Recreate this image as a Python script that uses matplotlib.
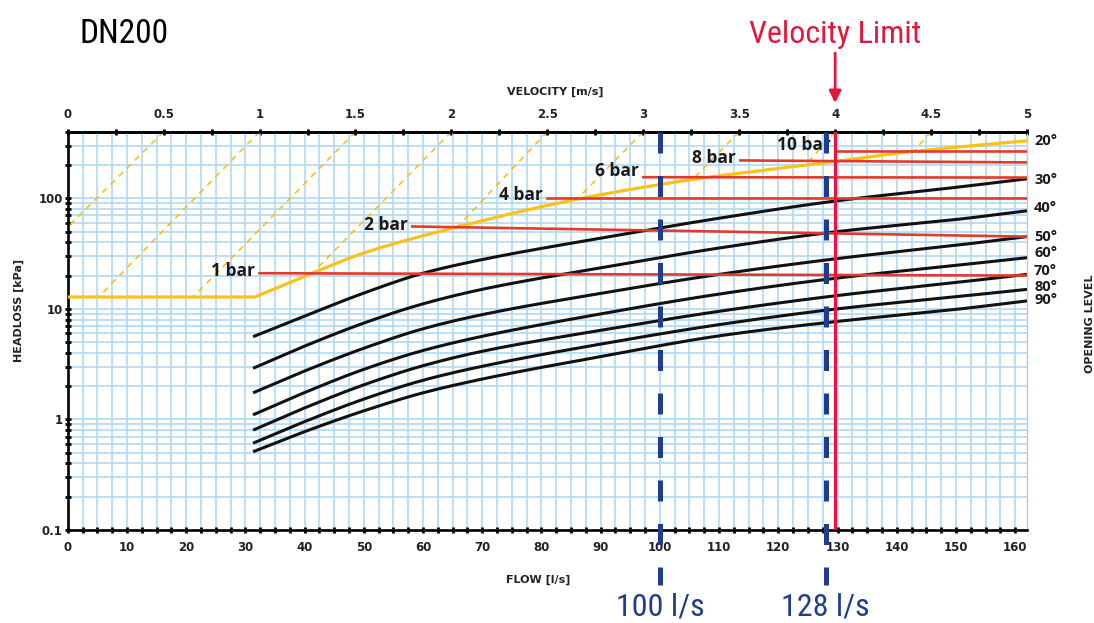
import numpy as np
import matplotlib
matplotlib.use("Agg")
import matplotlib.pyplot as plt
from matplotlib.ticker import LogLocator, NullFormatter, FixedLocator

W, H = 1094, 623

# flow [l/s] per 1 m/s on the top axis (5 m/s = 162 l/s)
flow_per_velocity = 32.4

# opening-level curves
curve_flow = [31.3, 40, 50.5, 60, 69.7, 90, 110, 130, 150.8, 162]
curve_30 = [5.6, 8.6, 14.2, 21, 27.7, 43.6, 66, 95, 127, 150]
curve_40 = [2.9, 4.6, 7.6, 11.1, 14.9, 23.5, 35.5, 50, 65, 77]
curve_50 = [1.74, 2.74, 4.5, 6.6, 8.8, 13.8, 20.5, 28.5, 38, 45]
curve_60 = [1.1, 1.75, 2.9, 4.2, 5.6, 9.0, 13.6, 19, 25, 29]
curve_70 = [0.80, 1.27, 2.1, 3.06, 4.1, 6.4, 9.5, 13.2, 17.5, 20.5]
curve_80 = [0.61, 0.955, 1.56, 2.26, 3.0, 4.8, 7.2, 10, 13, 15]
curve_90 = [0.51, 0.775, 1.22, 1.74, 2.3, 3.7, 5.7, 7.7, 10, 11.8]

# yellow envelope
env_flow = [0, 31.6, 41.3, 50, 65.8, 86, 105.6, 129.3, 142.7, 162]
env_head = [12.8, 12.8, 21, 32, 55, 98, 148, 214, 265, 331]

# dashed yellow guides: top end at velocity tick, lower end (flow, head)
guide_velocity = [0.5, 1, 1.5, 2, 2.5, 3, 3.5, 4, 4.5]
guide_low_flow = [0, 5.2, 21.2, 41.3, 65.8, 86, 105.5, 124.6, 142.8]
guide_low_head = [55, 12.8, 12.8, 21, 55, 98, 147, 200, 265]
guide_top_head = 400

# red pressure lines
bar_names = ["1 bar", "2 bar", "4 bar", "6 bar", "8 bar", "10 bar"]
bar_start_flow = [32.4, 58.2, 81, 97.2, 113.6, 129.6]
bar_start_head = [21, 55.6, 100, 155, 220, 270]
bar_end_head = [20, 45, 100, 154, 211, 270]
bar_label_head = [22.1, 57.5, 106, 177, 233, 305]

opening_labels = ["20°", "30°", "40°", "50°", "60°", "70°", "80°", "90°"]
opening_label_head = [327, 147, 82, 45, 32, 21.8, 15.9, 12.1]

velocity_limit = 4.0
marked_flows = [100, 128]
marked_labels = ["100 l/s", "128 l/s"]

x_ticks = list(range(0, 161, 10))
y_ticks = [0.1, 1, 10, 100]
y_tick_labels = ["0.1", "1", "10", "100"]
v_ticks = [0, 0.5, 1, 1.5, 2, 2.5, 3, 3.5, 4, 4.5, 5]
v_tick_labels = ["0", "0.5", "1", "1.5", "2", "2.5", "3", "3.5", "4", "4.5", "5"]


def pchip(x, y, xn):
    x = np.asarray(x, float)
    y = np.asarray(y, float)
    h = np.diff(x)
    d = np.diff(y) / h
    m = np.zeros_like(y)
    for k in range(1, len(x) - 1):
        if d[k - 1] * d[k] > 0:
            w1 = 2 * h[k] + h[k - 1]
            w2 = h[k] + 2 * h[k - 1]
            m[k] = (w1 + w2) / (w1 / d[k - 1] + w2 / d[k])
    m[0] = d[0]
    m[-1] = d[-1]
    i = np.clip(np.searchsorted(x, xn) - 1, 0, len(h) - 1)
    t = (xn - x[i]) / h[i]
    return ((2 * t**3 - 3 * t**2 + 1) * y[i] + (t**3 - 2 * t**2 + t) * h[i] * m[i]
            + (-2 * t**3 + 3 * t**2) * y[i + 1] + (t**3 - t**2) * h[i] * m[i + 1])


def smooth_log(xs, ys, n=200):
    xn = np.linspace(xs[0], xs[-1], n)
    return xn, 10 ** pchip(xs, np.log10(ys), xn)


narrow = ["Liberation Sans Narrow", "Roboto Condensed", "Roboto", "DejaVu Sans"]
bold_sans = ["Open Sans", "DejaVu Sans"]
big = 23

fig = plt.figure(figsize=(W / 100, H / 100), dpi=100)
ax = fig.add_axes([67.7 / W, 1 - 530 / H, 959.3 / W, 398.3 / H])
ax.set_yscale("log")
ax.set_xlim(0, 162)
ax.set_ylim(0.1, 400)

# grid
ax.set_axisbelow(True)
ax.xaxis.set_minor_locator(FixedLocator(np.arange(0, 162, 2.5)))
ax.yaxis.set_minor_locator(LogLocator(base=10, subs=np.arange(2, 10)))
ax.yaxis.set_minor_formatter(NullFormatter())
ax.grid(which="both", color="#b0d9f4", lw=1.2)

# curves
for ys in [curve_30, curve_40, curve_50, curve_60, curve_70, curve_80, curve_90]:
    xn, yn = smooth_log(curve_flow, ys)
    ax.plot(xn, yn, color="#111111", lw=2.2, zorder=3, solid_capstyle="butt")

xn, yn = smooth_log(env_flow[1:], env_head[1:])
ax.plot(np.r_[env_flow[0], xn], np.r_[env_head[0], yn], color="#f8c21a", lw=2.3, zorder=3)

for v, fl, hl in zip(guide_velocity, guide_low_flow, guide_low_head):
    ax.plot([v * flow_per_velocity, fl], [guide_top_head, hl], color="#f6c000",
            lw=1.1, ls=(0, (4, 3.5)), zorder=2.5)

for name, fs, hs, he, hl in zip(bar_names, bar_start_flow, bar_start_head,
                                bar_end_head, bar_label_head):
    ax.plot([fs, 162], [hs, he], color="#e43a2c", lw=1.9, zorder=3.5)
    ax.text(fs - 0.8, hl, name, ha="right", va="center", fontsize=12.5,
            fontweight="bold", family=bold_sans, color="#1a1a1a", zorder=4)

for lab, hv in zip(opening_labels, opening_label_head):
    ax.text(163.2, hv, lab, ha="left", va="center", fontsize=10.5,
            fontweight="bold", family=bold_sans, color="#1a1a1a", clip_on=False)

# marked flows
for fl, lab in zip(marked_flows, marked_labels):
    ax.plot([fl, fl], [400, 0.0318], color="#1f3d8c", lw=3.6,
            ls=(0, (4.2, 4.5)), clip_on=False, zorder=5)
    ax.annotate(lab, xy=(fl, 2 / H), xycoords=("data", "figure fraction"),
                ha="center", va="bottom", fontsize=big, family=narrow,
                color="#1f3d8c", annotation_clip=False)

# velocity limit
vl = velocity_limit * flow_per_velocity
ax.plot([vl, vl], [0.1, 400], color="#e3173e", lw=2.3, zorder=6)
ax.annotate("", xy=(vl, 1 - 103 / H), xytext=(vl, 1 - 53 / H),
            xycoords=("data", "figure fraction"), textcoords=("data", "figure fraction"),
            arrowprops=dict(arrowstyle="-|>", color="#e3173e", lw=2, mutation_scale=18,
                            shrinkA=0, shrinkB=0), annotation_clip=False)
ax.annotate("Velocity Limit", xy=(vl, 1 - 43 / H), xycoords=("data", "figure fraction"),
            ha="center", va="baseline", fontsize=big, family=narrow,
            color="#e3173e", annotation_clip=False)

fig.text(80 / W, 1 - 43 / H, "DN200", ha="left", va="baseline", fontsize=24,
         family=narrow, color="black")

# axes styling
ax.set_xticks(x_ticks)
ax.set_xticklabels([str(t) for t in x_ticks])
ax.set_yticks(y_ticks)
ax.set_yticklabels(y_tick_labels)
ax.tick_params(which="both", direction="inout", length=5, width=2, color="black",
               top=False, right=False)
ax.tick_params(axis="x", which="both", pad=5.5)
ax.tick_params(axis="y", which="both", pad=1)
for lbl in ax.get_xticklabels() + ax.get_yticklabels():
    lbl.set_fontsize(8.5)
    lbl.set_fontweight("bold")
    lbl.set_color("#222222")
for s in ["left", "bottom", "top"]:
    ax.spines[s].set_linewidth(1.9)
    ax.spines[s].set_color("black")
ax.spines["right"].set_color("#c8c8c8")
ax.spines["right"].set_linewidth(1)

sec = ax.secondary_xaxis("top", functions=(lambda q: q / flow_per_velocity,
                                            lambda v: v * flow_per_velocity))
sec.set_xticks(v_ticks)
sec.set_xticklabels(v_tick_labels)
sec.xaxis.set_minor_locator(FixedLocator(np.arange(0, 5.01, 0.25)))
sec.tick_params(which="both", direction="inout", length=5, width=2, color="black", pad=5.5)
sec.spines["top"].set_linewidth(1.9)
for lbl in sec.get_xticklabels():
    lbl.set_fontsize(8.5)
    lbl.set_fontweight("bold")
    lbl.set_color("#222222")

ax.text(0.508, 1.0997, "VELOCITY [m/s]", transform=ax.transAxes, ha="center",
        va="center", fontsize=8, fontweight="bold", color="#222222")
ax.text(0.49, -0.1255, "FLOW [l/s]", transform=ax.transAxes, ha="center",
        va="center", fontsize=8, fontweight="bold", color="#222222")
ax.text(-0.051, 0.55, "HEADLOSS [kPa]", transform=ax.transAxes, ha="center",
        va="center", rotation=90, fontsize=8, fontweight="bold", color="#222222")
ax.text(1.0656, 0.517, "OPENING LEVEL", transform=ax.transAxes, ha="center",
        va="center", rotation=90, fontsize=8, fontweight="bold", color="#222222")

fig.savefig("out.png", dpi=100)
